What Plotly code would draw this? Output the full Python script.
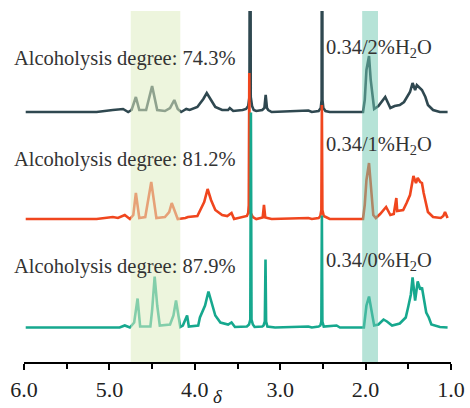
import plotly.graph_objects as go

# ---- data (chemical shift in ppm, intensity above each baseline, arbitrary units) ----
shift_a = [5.98, 5.15, 4.96, 4.90, 4.84, 4.78, 4.74, 4.69, 4.65, 4.57,
           4.50, 4.44, 4.35, 4.29, 4.24, 4.20, 4.16, 4.14, 4.10, 4.06,
           3.97, 3.90, 3.86, 3.81, 3.76, 3.68, 3.61, 3.59, 3.55, 3.44,
           3.40, 3.375, 3.36, 3.352, 3.345, 3.33, 3.31, 3.28, 3.21, 3.185,
           3.17, 3.155, 3.14, 3.10, 2.67, 2.63, 2.55, 2.525, 2.515, 2.51,
           2.505, 2.495, 2.47, 2.42, 2.03, 2.01, 1.99, 1.96, 1.94, 1.90,
           1.85, 1.77, 1.71, 1.66, 1.60, 1.55, 1.52, 1.48, 1.45, 1.42,
           1.40, 1.37, 1.34, 1.30, 1.27, 1.21, 1.13, 1.04]
inten_a = [0, 0, 2, 2.5, 3, 0, 2, 15, 2, 2,
           26, 2, 1, 4, 12, 3, 0, 1, 3, 2,
           5, 13, 19, 12, 5, 2, 2, 4, 1, 2,
           3, 6, 15, 420, 15, 6, 2, 1, 2, 4,
           17, 4, 2, 0, 1.5, 0, 1, 4, 12, 420,
           12, 4, 1, 0, 0, 12, 42, 56, 32, 3,
           6, 15, 4, 6, 7, 10, 14, 20, 29, 22,
           27, 24, 22, 15, 7, 2, 0, 0]

shift_b = [5.98, 5.15, 4.96, 4.90, 4.82, 4.76, 4.72, 4.69, 4.65, 4.58,
           4.51, 4.45, 4.35, 4.30, 4.27, 4.23, 4.20, 4.11, 4.08, 3.97,
           3.92, 3.89, 3.85, 3.81, 3.76, 3.68, 3.62, 3.57, 3.54, 3.44,
           3.39, 3.375, 3.368, 3.362, 3.356, 3.345, 3.32, 3.28, 3.22, 3.205,
           3.19, 3.175, 3.15, 3.10, 2.67, 2.63, 2.55, 2.53, 2.518, 2.512,
           2.506, 2.49, 2.42, 2.03, 2.01, 1.99, 1.96, 1.94, 1.91, 1.88,
           1.83, 1.76, 1.71, 1.67, 1.64, 1.63, 1.56, 1.52, 1.48, 1.44,
           1.41, 1.39, 1.36, 1.34, 1.32, 1.27, 1.21, 1.12, 1.09, 1.07,
           1.05, 1.04]
inten_b = [0, 0, 2, 1, 4, 0, 4, 26, 1, 2,
           37, 1, 2, 7, 16, 7, 0, 1, 2, 3,
           12, 17, 30, 19, 9, 4, 3, 6, 0, 2,
           3, 6, 14, 146, 14, 6, 2, 0, 1, 1.5,
           14, 1.5, 1, 0, 1, 0, 1, 3, 9, 114,
           9, 3, 0, 0, 14, 39, 56, 34, 4, 1,
           5, 12, 4, 5, 21, 8, 9, 16, 24, 43,
           36, 41, 37, 36, 26, 7, 2, 1, 3, 7,
           2, 1]

shift_c = [5.98, 5.11, 4.88, 4.82, 4.76, 4.71, 4.67, 4.64, 4.52, 4.50,
           4.47, 4.44, 4.41, 4.29, 4.25, 4.22, 4.19, 4.17, 4.14, 4.09,
           4.07, 3.96, 3.94, 3.91, 3.88, 3.84, 3.81, 3.76, 3.70, 3.61,
           3.57, 3.53, 3.39, 3.365, 3.35, 3.343, 3.336, 3.32, 3.30, 3.21,
           3.195, 3.18, 3.172, 3.165, 3.15, 3.06, 2.67, 2.63, 2.55, 2.53,
           2.518, 2.512, 2.506, 2.49, 2.34, 2.30, 2.02, 1.99, 1.96, 1.93,
           1.90, 1.85, 1.79, 1.75, 1.69, 1.60, 1.53, 1.50, 1.47, 1.45,
           1.42, 1.39, 1.36, 1.34, 1.32, 1.29, 1.26, 1.23, 1.13, 1.04]
inten_c = [0, 0, 0, 2, 0, 5, 29, 1, 1, 17,
           51, 22, 2, 3, 12, 27, 9, 0.5, 2, 12,
           1, 2, 10, 17, 22, 36, 27, 12, 5, 3,
           5, 0.5, 1, 3, 8, 215, 8, 3, 0.5, 1,
           2, 6, 68, 6, 1, 0, 1, 0, 1, 2,
           6, 112, 6, 1, 2, 0, 0, 22, 31, 18,
           2, 3, 8, 6, 2, 4, 10, 21, 33, 50,
           27, 46, 38, 40, 31, 15, 10, 3, 0.5, 0]

offsets = [250, 143, 34.5]
series_names = ["0.34/2%H2O", "0.34/1%H2O", "0.34/0%H2O"]
colors = ["#2f4850", "#f0461e", "#16a88e"]
degree_labels = ["Alcoholysis degree: 74.3%", "Alcoholysis degree: 81.2%", "Alcoholysis degree: 87.9%"]
ratio_labels = ["0.34/2%H<sub>2</sub>O", "0.34/1%H<sub>2</sub>O", "0.34/0%H<sub>2</sub>O"]
band1 = (4.75, 4.17)
band2 = (2.04, 1.855)
x_ticks = [6, 5, 4, 3, 2, 1]

# ---- layout geometry (pixels) ----
W, H = 470, 408
L, R, T, B = 24, 19, 11, 46
pw, ph = W - L - R, H - T - B

def px(x):
    return (x - L) / pw

def py(y):
    return (H - B - y) / ph

fig = go.Figure()
for s, i, off, c, n in zip([shift_a, shift_b, shift_c], [inten_a, inten_b, inten_c], offsets, colors, series_names):
    fig.add_trace(go.Scatter(x=s, y=[off + v for v in i], mode="lines", name=n,
                             line=dict(color=c, width=2.6, shape="linear"), showlegend=False))

serif = "Liberation Serif, Times New Roman, serif"
fig.add_shape(type="rect", xref="x", yref="paper", x0=band1[0], x1=band1[1], y0=0, y1=1,
              fillcolor="rgb(222,236,193)", opacity=0.55, line_width=0, layer="above")
fig.add_shape(type="rect", xref="x", yref="paper", x0=band2[0], x1=band2[1], y0=0, y1=1,
              fillcolor="rgb(110,200,175)", opacity=0.5, line_width=0, layer="above")

ann = []
for lab, yc in zip(degree_labels, [59, 159, 266]):
    ann.append(dict(text=lab, x=px(12), y=py(yc), xref="paper", yref="paper", xanchor="left",
                    yanchor="middle", showarrow=False, font=dict(family=serif, size=20.5, color="#333333")))
for lab, yc in zip(ratio_labels, [48, 145, 261]):
    ann.append(dict(text=lab, x=px(324), y=py(yc), xref="paper", yref="paper", xanchor="left",
                    yanchor="middle", showarrow=False, font=dict(family=serif, size=20.5, color="#333333")))
ann.append(dict(text="<i>δ</i>", x=px(218), y=py(396), xref="paper", yref="paper", xanchor="center",
                yanchor="middle", showarrow=False, font=dict(family=serif, size=19, color="#222222")))

fig.update_layout(
    width=W, height=H, margin=dict(l=L, r=R, t=T, b=B, autoexpand=False),
    paper_bgcolor="white", plot_bgcolor="white",
    annotations=ann,
    xaxis=dict(range=[6, 1], tickvals=x_ticks, ticktext=[f"{v:.1f}" for v in x_ticks],
               automargin=False,
               showgrid=False, zeroline=False, showline=True, linecolor="black", linewidth=1.5,
               ticks="outside", ticklen=6, tickwidth=1.5, tickcolor="black", ticklabelstandoff=1,
               tickfont=dict(family=serif, size=22, color="#222222"),
               minor=dict(dtick=0.5, tick0=1, ticks="outside", ticklen=5, tickwidth=1.5, tickcolor="black")),
    yaxis=dict(range=[0, ph], visible=False, showgrid=False, zeroline=False, automargin=False),
)
fig.write_html("out.html")
